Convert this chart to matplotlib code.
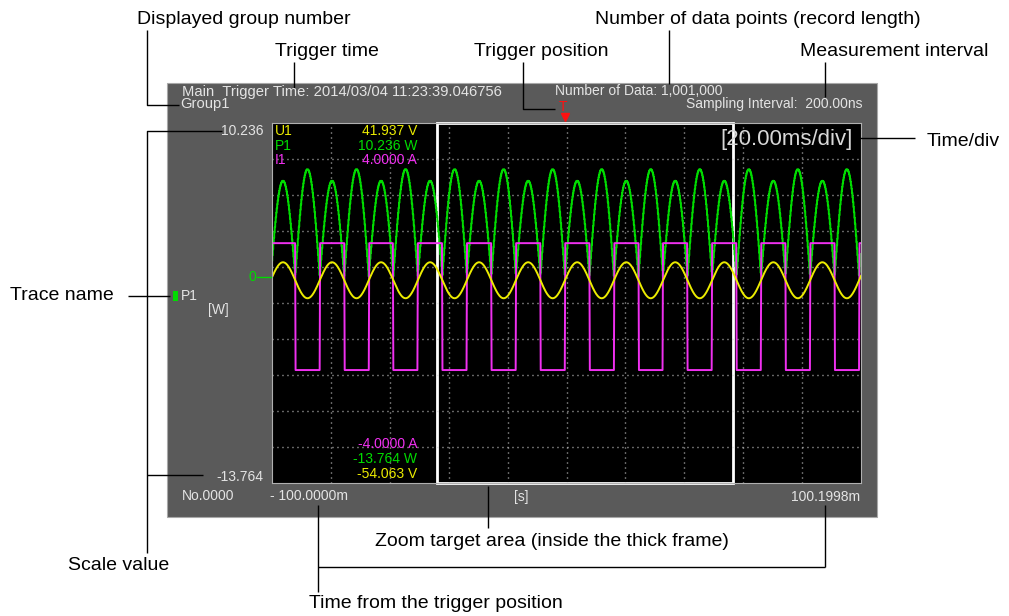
import numpy as np
import matplotlib.pyplot as plt
from matplotlib.patches import Rectangle

# screen values
t_start = -100.0000          # ms, left edge of the screen
t_end = 100.1998             # ms, right edge of the screen
u1_scale = [41.937, -54.063]  # V (top, bottom)
p1_scale = [10.236, -13.764]  # W (top, bottom)
i1_scale = [4.0000, -4.0000]  # A (top, bottom)
line_freq = 60.0             # Hz
u1_amp = 4.8                 # V
u1_peak_t = -29.6            # ms, one positive voltage peak
i1_levels = [1.33, -1.49]    # A, square wave high / low
zoom_frame = [-43.9, 56.7]   # ms, thick white frame
n_divs = 10

header_left = ["Main  Trigger Time: 2014/03/04 11:23:39.046756", "Group1"]
header_right = ["Number of Data: 1,001,000", "Sampling Interval:  200.00ns"]
time_div = "[20.00ms/div]"
footer = ["No.0000", "- 100.0000m", "[s]", "100.1998m"]

# call-out labels: text, x, y
callouts = [
    ("Displayed group number", 137, 19),
    ("Number of data points (record length)", 595, 19),
    ("Trigger time", 275, 51),
    ("Trigger position", 474, 51),
    ("Measurement interval", 800, 51),
    ("Time/div", 927, 141),
    ("Trace name", 10, 296),
    ("Scale value", 68, 566),
    ("Zoom target area (inside the thick frame)", 375, 541),
    ("Time from the trigger position", 309, 604),
]
leaders = [
    [(147, 30), (147, 105), (179, 105)],
    [(294, 62), (294, 88)],
    [(523, 62), (523, 109), (555, 109)],
    [(669, 30), (669, 84)],
    [(825, 62), (825, 97)],
    [(858, 138), (915, 138)],
    [(128, 296), (170, 296)],
    [(222, 131), (147, 131), (147, 553)],
    [(203, 475), (147, 475)],
    [(488, 486), (488, 528)],
    [(318, 505), (318, 592)],
    [(318, 567), (825, 567)],
    [(825, 505), (825, 567)],
]

W, H = 1009, 616
sx0, sy0, sw, sh = 272, 123, 589, 360   # screen box in pixels

scope_font = ['Liberation Sans', 'DejaVu Sans']
label_font = ['Liberation Sans', 'DejaVu Sans']
c_txt = '#e4e4e4'
c_u = '#ecec00'
c_p = '#00dc00'
c_i = '#f030f0'

fig = plt.figure(figsize=(W / 100, H / 100), dpi=100)

# gray instrument panel (bottom layer)
under = fig.add_axes([0, 0, 1, 1], zorder=0)
under.set_xlim(0, W)
under.set_ylim(H, 0)
under.axis('off')
under.add_patch(Rectangle((167, 83), 710, 434, fc='#5a5a5a', ec='#a8a8a8', lw=0.8))

# scope screen
ax = fig.add_axes([sx0 / W, 1 - (sy0 + sh) / H, sw / W, sh / H], zorder=1)
ax.set_facecolor('black')
ax.set_xlim(t_start, t_end)
ax.set_ylim(0, 1)
ax.set_xticks([])
ax.set_yticks([])
for s in ax.spines.values():
    s.set_color('#b0b0b0')
    s.set_linewidth(0.8)

for k in range(1, n_divs):
    ax.axvline(t_start + k * (t_end - t_start) / n_divs, color='#cfcfcf', lw=1.0, ls=(0, (0.7, 2.9)))
    ax.axhline(k / n_divs, color='#cfcfcf', lw=1.0, ls=(0, (0.7, 2.9)))

t = np.linspace(t_start, t_end, 1200)
u1 = u1_amp * np.cos(2 * np.pi * line_freq * (t - u1_peak_t) / 1000)
i1 = np.where(u1 >= 0, i1_levels[0], i1_levels[1])
p1 = u1 * i1


def to_screen(v, scale):
    return (v - scale[1]) / (scale[0] - scale[1])


ax.plot(t, to_screen(p1, p1_scale), color=c_p, lw=1.4, drawstyle='steps-mid')
ax.plot(t, to_screen(i1, i1_scale), color=c_i, lw=1.4)
ax.plot(t, to_screen(u1, u1_scale), color=c_u, lw=1.4)

# zoom target frame
ax.add_patch(Rectangle((zoom_frame[0], 0), zoom_frame[1] - zoom_frame[0], 1,
                       fill=False, ec='white', lw=2.0, clip_on=False))

# texts and call-out lines (top layer, pixel coordinates)
bg = fig.add_axes([0, 0, 1, 1], zorder=2)
bg.set_xlim(0, W)
bg.set_ylim(H, 0)
bg.axis('off')
bg.patch.set_visible(False)

sf = dict(fontsize=10, family=scope_font, va='center')
bg.text(182, 92, header_left[0], color=c_txt, fontsize=10.6, family=scope_font, va='center')
bg.text(180, 104, header_left[1], color=c_txt, fontsize=10.6, family=scope_font, va='center')
bg.text(555, 91, header_right[0], color=c_txt, **sf)
bg.text(863, 104, header_right[1], color=c_txt, ha='right', **sf)
bg.text(182, 496, footer[0], color=c_txt, **sf)
bg.text(270, 496, footer[1], color=c_txt, **sf)
bg.text(521, 497, footer[2], color=c_txt, ha='center', **sf)
bg.text(860, 497, footer[3], color=c_txt, ha='right', **sf)

# scale values and trace name
bg.text(263, 131, f"{p1_scale[0]:.3f}", color=c_txt, ha='right', **sf)
bg.text(263, 477, f"-{abs(p1_scale[1]):.3f}", color=c_txt, ha='right', **sf)
y_zero = sy0 + p1_scale[0] / (p1_scale[0] - p1_scale[1]) * sh
bg.text(252, y_zero, "0", color=c_p, ha='center', **sf)
bg.plot([257, 271], [y_zero, y_zero], color=c_p, lw=1)
bg.add_patch(Rectangle((173, 291), 5, 10, fc=c_p, ec='none'))
bg.text(181, 296, "P1", color=c_txt, **sf)
bg.text(208, 310, "[W]", color=c_txt, **sf)

# trigger mark at t = 0
x_trig = sx0 + (0 - t_start) / (t_end - t_start) * sw
bg.text(x_trig - 3, 107, "T", color='#ff1010', fontsize=10, family=scope_font, va='center', ha='center')
bg.plot([x_trig - 1], [117], marker='v', color='#ff1010', ms=6)

# channel readouts inside the screen
rows = [("U1", f"{u1_scale[0]:.3f} V", c_u), ("P1", f"{p1_scale[0]:.3f} W", c_p),
        ("I1", f"{i1_scale[0]:.4f} A", c_i)]
for n, (name, val, c) in enumerate(rows):
    y = 131 + n * 14.5
    bg.text(275, y, name, color=c, **sf)
    bg.text(417, y, val, color=c, ha='right', **sf)
low_rows = [(f"-{abs(i1_scale[1]):.4f} A", c_i), (f"-{abs(p1_scale[1]):.3f} W", c_p),
            (f"-{abs(u1_scale[1]):.3f} V", c_u)]
for n, (val, c) in enumerate(low_rows):
    bg.text(417, 444 + n * 15, val, color=c, ha='right', **sf)
bg.text(853, 139, time_div, color='#d8d8d8', fontsize=16, family=scope_font, va='center', ha='right')

# call-outs
for txt, x, y in callouts:
    bg.text(x, y, txt, fontsize=14, family=label_font, va='center', color='black')
for pts in leaders:
    xs, ys = zip(*pts)
    bg.plot(xs, ys, color='black', lw=1.0, solid_capstyle='butt')

fig.savefig('out.png', dpi=100, facecolor='white')
